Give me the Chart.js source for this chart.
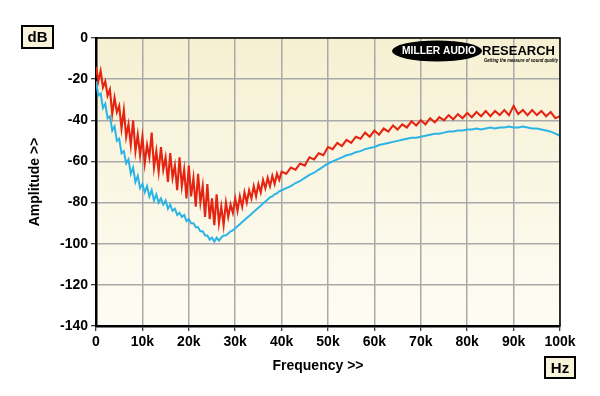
<!DOCTYPE html>
<html>
<head>
<meta charset="utf-8">
<script src="https://cdn.jsdelivr.net/npm/chart.js@4.4.0/dist/chart.umd.min.js"></script>
<style>
  html, body { margin: 0; padding: 0; background: #ffffff; }
  #wrap { width: 600px; height: 396px; }
</style>
</head>
<body>
<div id="wrap"><canvas id="resp"></canvas></div>
<script>
// frequency grid in kHz (0.5k steps to 40k, then 1k steps)
const freqK = [
  0, 0.5, 1, 1.5, 2, 2.5, 3, 3.5, 4, 4.5, 5, 5.5, 6, 6.5, 7, 7.5, 8, 8.5, 9, 9.5,
  10, 10.5, 11, 11.5, 12, 12.5, 13, 13.5, 14, 14.5, 15, 15.5, 16, 16.5, 17, 17.5, 18, 18.5, 19, 19.5,
  20, 20.5, 21, 21.5, 22, 22.5, 23, 23.5, 24, 24.5, 25, 25.5, 26, 26.5, 27, 27.5, 28, 28.5, 29, 29.5,
  30, 30.5, 31, 31.5, 32, 32.5, 33, 33.5, 34, 34.5, 35, 35.5, 36, 36.5, 37, 37.5, 38, 38.5, 39, 39.5,
  40, 41, 42, 43, 44, 45, 46, 47, 48, 49, 50, 51, 52, 53, 54, 55, 56, 57, 58, 59,
  60, 61, 62, 63, 64, 65, 66, 67, 68, 69, 70, 71, 72, 73, 74, 75, 76, 77, 78, 79,
  80, 81, 82, 83, 84, 85, 86, 87, 88, 89, 90, 91, 92, 93, 94, 95, 96, 97, 98, 99, 100
];

// red trace (dB)
const redDb = [
  -14, -21, -16, -24, -21, -28, -25, -37, -29, -36, -33, -44, -35, -48, -42, -52, -40, -55, -47, -57,
  -48, -61, -52, -58, -46, -63, -55, -65, -53, -64, -58, -70, -56, -68, -62, -74, -58, -72, -64, -78,
  -62, -77, -68, -82, -66, -80, -72, -87, -71, -88, -78, -91, -76, -90, -82, -91, -80, -87, -81, -85,
  -78, -84, -77, -82, -75, -80, -74, -78, -72, -77, -71, -75, -69, -73, -68, -72, -67, -71, -66, -69,
  -65, -66, -63, -64, -61, -62, -58, -59, -56, -57, -53, -54, -51, -52.5, -49.5, -51, -48, -49, -46, -48,
  -45, -47, -44, -45.5, -42.5, -44.5, -42, -43.5, -40.5, -42.5, -40, -42, -39, -41, -38.5, -40, -37.5, -39.5, -37, -39,
  -36.5, -38.5, -36, -38, -35.5, -38, -35.5, -37.5, -35, -37.5, -33, -37, -35, -37.5, -35, -37.5, -35.5, -38, -36, -39, -38
];

// blue trace (dB)
const blueDb = [
  -21, -28, -27, -34, -32, -39, -38, -45, -43, -50, -49, -56, -55, -61, -59, -66, -63, -70, -67, -73,
  -71, -75, -72, -77, -74, -79, -76, -80, -78, -81, -79, -83, -81, -84, -83, -86, -85, -87, -86, -89,
  -88, -90, -90, -92, -92, -94, -94, -96, -96, -98, -97, -99, -97, -98.5, -97, -96, -96, -95, -94, -93.5,
  -92.5, -91.5, -90.5, -89.5, -88.5, -87.5, -86.5, -85.5, -84.5, -83.5, -82.5, -81.5, -80.5, -79.5, -78.5, -77.5, -77, -76, -75.5, -74.5,
  -74, -73, -72, -70.5, -69.5, -68, -66.5, -65.5, -64, -62.5, -61, -60, -59, -58, -57, -56.5, -55.5, -55, -54, -53.5,
  -53, -52, -51.5, -51, -50.5, -50, -49.5, -49, -48.5, -48.5, -48, -47.5, -47, -46.5, -46.5, -46, -45.5, -45.5, -45, -45,
  -44.5, -44.5, -44, -44.5, -44, -43.5, -44, -43.5, -43.5, -43, -43.5, -43.5, -43, -43.5, -44, -44, -44.5, -45, -45.5, -46.5, -47.5
];

const xTicks = [0, 10, 20, 30, 40, 50, 60, 70, 80, 90, 100];
const yTicks = [0, -20, -40, -60, -80, -100, -120, -140];

const redPts = freqK.map((f, i) => ({ x: f, y: redDb[i] }));
const bluePts = freqK.map((f, i) => ({ x: f, y: blueDb[i] }));

const FONT = '"Liberation Sans", Arial, sans-serif';

// plot background, frame, labels and logo
const decor = {
  id: 'decor',
  beforeDraw(chart) {
    const { ctx, chartArea: a } = chart;
    ctx.save();
    const g = ctx.createLinearGradient(0, a.top, 0, a.bottom);
    g.addColorStop(0, '#f6f0d2');
    g.addColorStop(1, '#fefdf5');
    ctx.fillStyle = g;
    ctx.fillRect(a.left, a.top, a.right - a.left, a.bottom - a.top);
    ctx.restore();
  },
  afterDraw(chart) {
    const { ctx, chartArea: a } = chart;
    ctx.save();
    // thin frame top / right
    ctx.strokeStyle = '#000';
    ctx.lineWidth = 1.5;
    ctx.beginPath();
    ctx.moveTo(a.left, a.top);
    ctx.lineTo(a.right, a.top);
    ctx.lineTo(a.right, a.bottom);
    ctx.stroke();

    // axis titles
    ctx.fillStyle = '#000';
    ctx.font = 'bold 14px ' + FONT;
    ctx.textAlign = 'center';
    ctx.textBaseline = 'middle';
    ctx.fillText('Frequency >>', 318, 366);
    ctx.save();
    ctx.translate(35, 182);
    ctx.rotate(-Math.PI / 2);
    ctx.fillText('Amplitude >>', 0, 0);
    ctx.restore();

    // unit boxes
    function unitBox(x, y, w, h, txt) {
      ctx.fillStyle = '#f8f4da';
      ctx.fillRect(x, y, w, h);
      ctx.strokeStyle = '#000';
      ctx.lineWidth = 2;
      ctx.strokeRect(x, y, w, h);
      ctx.fillStyle = '#000';
      ctx.font = 'bold 15px ' + FONT;
      ctx.fillText(txt, x + w / 2, y + h / 2 + 1);
    }
    unitBox(22, 26, 31, 22, 'dB');
    unitBox(545, 357, 30, 21, 'Hz');

    // logo
    ctx.fillStyle = '#000';
    ctx.beginPath();
    ctx.ellipse(437, 51, 45, 10.5, 0, 0, Math.PI * 2);
    ctx.fill();
    ctx.fillStyle = '#fff';
    ctx.font = 'bold 11.5px ' + FONT;
    ctx.fillText('MILLER AUDIO', 439, 51, 74);
    ctx.fillStyle = '#000';
    ctx.textAlign = 'left';
    ctx.font = 'bold 13px ' + FONT;
    ctx.fillText('RESEARCH', 482, 51, 76);
    ctx.font = 'italic bold 5.5px ' + FONT;
    ctx.fillText('Getting the measure of sound quality', 484, 60, 74);
    ctx.restore();
  }
};

new Chart(document.getElementById('resp'), {
  type: 'line',
  data: {
    datasets: [
      {
        label: 'Red',
        data: redPts,
        borderColor: '#e62412',
        borderWidth: 2.1,
        pointRadius: 0,
        tension: 0,
        fill: false
      },
      {
        label: 'Blue',
        data: bluePts,
        borderColor: '#2cb4e6',
        borderWidth: 2,
        pointRadius: 0,
        tension: 0,
        fill: false
      }
    ]
  },
  options: {
    responsive: true,
    maintainAspectRatio: false,
    animation: false,
    layout: { padding: { top: 38, right: 40, bottom: 40, left: 0 } },
    plugins: { legend: { display: false }, tooltip: { enabled: false } },
    scales: {
      x: {
        type: 'linear',
        min: 0,
        max: 100,
        afterBuildTicks: s => { s.ticks = xTicks.map(v => ({ value: v })); },
        afterFit: s => { s.height = 30; },
        ticks: {
          color: '#000',
          font: { family: FONT, size: 14, weight: 'bold' },
          padding: 3,
          maxRotation: 0,
          callback: v => v === 0 ? '0' : v + 'k'
        },
        grid: { color: '#a9a9a9', lineWidth: 1.5, tickLength: 5, tickColor: '#000', tickWidth: 1 },
        border: { display: true, color: '#000', width: 2.5 }
      },
      y: {
        min: -140,
        max: 0,
        afterBuildTicks: s => { s.ticks = yTicks.map(v => ({ value: v })); },
        afterFit: s => { s.width = 96; },
        ticks: {
          color: '#000',
          font: { family: FONT, size: 14, weight: 'bold' },
          padding: 3
        },
        grid: { color: '#a9a9a9', lineWidth: 1.5, tickLength: 5, tickColor: '#000', tickWidth: 1 },
        border: { display: true, color: '#000', width: 2.5 }
      }
    }
  },
  plugins: [decor]
});
</script>
</body>
</html>
